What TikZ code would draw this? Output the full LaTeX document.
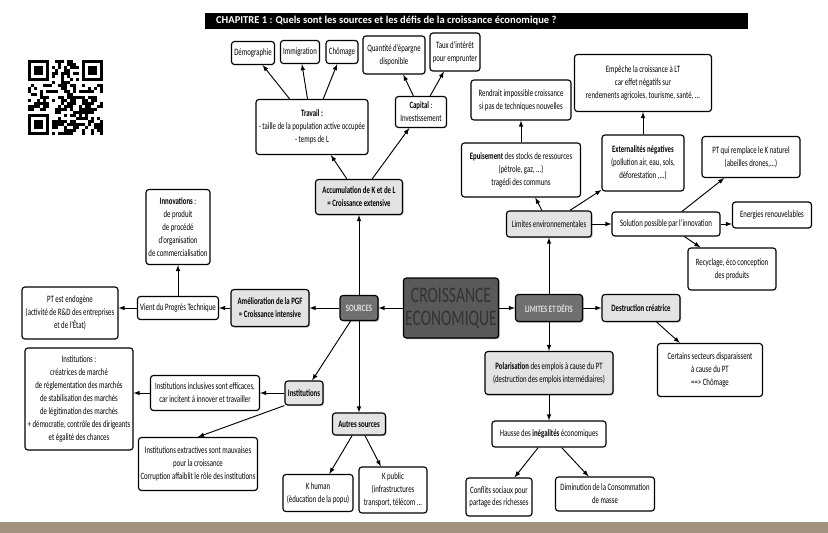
\documentclass[tikz,border=0pt]{standalone}
\usepackage{fontspec}
\setmainfont[FakeStretch=0.7]{Carlito}
\newfontfamily\titrefont{Carlito}
\usetikzlibrary{shadows}
\definecolor{tablefond}{RGB}{160,146,126}

\tikzset{
	boite/.style={draw, line width=1pt, rounded corners=2.5pt, align=center, inner sep=1.5pt, fill=white, font=\fontsize{8.3}{11}\selectfont},
	grise/.style={boite, fill=gray!22, drop shadow={shadow xshift=1pt, shadow yshift=-1pt, fill=black!45}},
	sombre/.style={boite, fill=gray!88!black, text=white!88!black, font=\fontsize{8.3}{11}\selectfont\bfseries, drop shadow={shadow xshift=1pt, shadow yshift=-1pt, fill=black!70}},
	taille/.style 2 args={minimum width=#1*0.03cm, minimum height=#2*0.03cm},
	fleche/.style={->, line width=0.8pt}
}

\begin{document}
\begin{tikzpicture}[x=0.03cm, y=-0.03cm, >=latex]
	\useasboundingbox (0,0) rectangle (828,533);
	\fill[white] (0,0) rectangle (828,533);
	\fill[tablefond] (0,522) rectangle (828,533);

	% Titre
	\fill[black] (205,13) rectangle (748,29);
	\node[anchor=west, text=white, font=\titrefont\fontsize{9}{10}\selectfont\bfseries] (chapitre) at (212,21) {CHAPITRE 1 : Quels sont les sources et les défis de la croissance économique ?};

	% QR code
	\fill[black] (28,60) rectangle +(21,21);
	\fill[white] (31,63) rectangle +(15,15);
	\fill[black] (34,66) rectangle +(9,9);
	\fill[black] (82,60) rectangle +(21,21);
	\fill[white] (85,63) rectangle +(15,15);
	\fill[black] (88,66) rectangle +(9,9);
	\fill[black] (28,114) rectangle +(21,21);
	\fill[white] (31,117) rectangle +(15,15);
	\fill[black] (34,120) rectangle +(9,9);
	\pgfmathsetseed{17}
	\foreach \i in {0,...,24}{
		\foreach \j in {0,...,24}{
			\pgfmathtruncatemacro\qrcoin{(\i<8 && \j<8) || (\i>16 && \j<8) || (\i<8 && \j>16)}
			\pgfmathtruncatemacro\qrnoir{rnd<0.5}
			\ifnum\qrcoin=0 \ifnum\qrnoir=1 \fill[black] (28+\i*3,60+\j*3) rectangle +(3,3); \fi\fi
		}
	}

	% Centre
	\node[boite, fill=gray!70!black, text=black!80, taille={94}{60}, font=\fontsize{19}{19.5}\selectfont, drop shadow={shadow xshift=1pt, shadow yshift=-1pt, fill=black!70}] (croissance) at (451,308) {CROISSANCE\\ECONOMIQUE};
	\node[sombre, taille={38}{25}] (sources) at (359,308) {SOURCES};
	\node[sombre, taille={67}{27}] (limites) at (549,308) {LIMITES ET DÉFIS};

	% Sources : accumulation
	\node[grise, taille={87}{35}] (accu) at (359,197) {\textbf{Accumulation de K et de L}\\\textbf{= Croissance extensive}};
	\node[boite, taille={112}{55}] (travail) at (312,127) {\textbf{Travail :}\\- taille de la population active occupée\\- temps de L};
	\node[boite, taille={51}{31}] (capital) at (421,112) {\textbf{Capital} :\\Investissement};
	\node[boite, taille={43}{23}] (demo) at (253,53) {Démographie};
	\node[boite, taille={39}{23}] (immig) at (300,52) {Immigration};
	\node[boite, taille={32}{23}] (chomage) at (342,52) {Chômage};
	\node[boite, taille={62}{38}] (epargne) at (394,55) {Quantité d'épargne\\disponible};
	\node[boite, taille={50}{38}] (taux) at (455,52) {Taux d'intérêt\\pour emprunter};

	% Sources : PGF
	\node[grise, taille={78}{37}] (pgf) at (270,308) {\textbf{Amélioration de la PGF}\\\textbf{= Croissance intensive}};
	\node[boite, taille={81}{23}] (progres) at (178,308) {Vient du Progrès Technique};
	\node[boite, taille={64}{75}] (innov) at (178,227) {\textbf{Innovations} :\\de produit\\de procédé\\d'organisation\\de commercialisation};
	\node[boite, taille={96}{52}] (endogene) at (70,313) {PT est endogène\\(activité de R\&D des entreprises\\et de l'État)};

	% Sources : institutions
	\node[grise, taille={38}{24}] (instit) at (304,393) {\textbf{Institutions}};
	\node[boite, taille={109}{35}] (inclusives) at (205,393) {Institutions inclusives sont efficaces,\\car incitent à innover et travailler};
	\node[boite, taille={108}{102}] (creatrices) at (79,399) {Institutions :\\créatrices de marché\\de réglementation des marchés\\de stabilisation des marchés\\de légitimation des marchés\\+ démocratie, contrôle des dirigeants\\et égalité des chances};
	\node[boite, taille={119}{53}] (extractives) at (198,464) {Institutions extractives sont mauvaises\\pour la croissance\\Corruption affaiblit le rôle des institutions};

	% Sources : autres
	\node[grise, taille={53}{22}] (autres) at (359,424) {\textbf{Autres sources}};
	\node[boite, taille={70}{37}] (khumain) at (318,493) {K human\\(éducation de la popu)};
	\node[boite, taille={68}{46}] (kpublic) at (393,490) {K public\\(infrastructures\\transport, télécom ...};

	% Limites : environnement
	\node[grise, taille={85}{26}] (environ) at (549,224) {Limites environnementales};
	\node[boite, taille={119}{54}] (epuise) at (521,170) {\textbf{Epuisement} des stocks de ressources\\(pétrole, gaz, ...)\\tragédi des communs};
	\node[boite, taille={100}{40}] (rendrait) at (521,100) {Rendrait impossible croissance\\si pas de techniques nouvelles};
	\node[boite, taille={82}{56}] (externa) at (643,163) {\textbf{Externalités négatives}\\(pollution air, eau, sols,\\déforestation ,...)};
	\node[boite, taille={137}{57}] (empeche) at (643,83) {Empêche la croissance à LT\\car effet négatifs sur\\rendements agricoles, tourisme, santé, ...};
	\node[boite, taille={108}{24}] (solution) at (666,224) {Solution possible par l'innovation};
	\node[boite, taille={79}{26}] (energies) at (772,215) {Energies renouvelables};
	\node[boite, taille={88}{42}] (recyclage) at (732,269) {Recyclage, éco conception\\des produits};
	\node[boite, taille={98}{41}] (ptnaturel) at (751,157) {PT qui remplace le K naturel\\(abeilles drones,...)};

	% Limites : emplois
	\node[grise, taille={78}{27}] (destruction) at (641,308) {\textbf{Destruction créatrice}};
	\node[boite, taille={105}{53}] (secteurs) at (710,370) {Certains secteurs disparaissent\\à cause du PT\\==> Chômage};
	\node[grise, taille={128}{43}] (polar) at (549,373) {\textbf{Polarisation} des emplois à cause du PT\\(destruction des emplois intermédiaires)};
	\node[boite, taille={114}{26}] (hausse) at (549,434) {Hausse des \textbf{inégalités} économiques};
	\node[boite, taille={66}{38}] (conflits) at (499,497) {Conflits sociaux pour\\partage des richesses};
	\node[boite, taille={99}{34}] (diminution) at (605,494) {Diminution de la Consommation\\de masse};

	% Fleches
	\draw[fleche] (croissance) -- (sources);
	\draw[fleche] (croissance) -- (limites);
	\draw[fleche] (sources) -- (accu);
	\draw[fleche] (sources) -- (pgf);
	\draw[fleche] (sources) -- (instit);
	\draw[fleche] (sources) -- (autres);
	\draw[fleche] (accu) -- (travail);
	\draw[fleche] (accu) -- (capital);
	\draw[fleche] (travail) -- (demo);
	\draw[fleche] (travail) -- (immig);
	\draw[fleche] (travail) -- (chomage);
	\draw[fleche] (capital) -- (epargne);
	\draw[fleche] (capital) -- (taux);
	\draw[fleche] (pgf) -- (progres);
	\draw[fleche] (progres) -- (innov);
	\draw[fleche] (progres.west) -- (progres.west -| endogene.east);
	\draw[fleche] (instit) -- (inclusives);
	\draw[fleche] (inclusives.west) -- (inclusives.west -| creatrices.east);
	\draw[fleche] (instit.south west) -- (extractives.north);
	\draw[fleche] (autres) -- (khumain);
	\draw[fleche] (autres) -- (kpublic);
	\draw[fleche] (limites) -- (environ);
	\draw[fleche] (limites) -- (destruction);
	\draw[fleche] (limites) -- (polar);
	\draw[fleche] (environ) -- (epuise);
	\draw[fleche] (environ) -- (externa);
	\draw[fleche] (environ) -- (solution);
	\draw[fleche] (epuise) -- (rendrait);
	\draw[fleche] (externa) -- (empeche);
	\draw[fleche] (solution.east) -- (solution.east -| energies.west);
	\draw[fleche] (solution) -- (recyclage);
	\draw[fleche] (solution) -- (ptnaturel);
	\draw[fleche] (destruction) -- (secteurs);
	\draw[fleche] (polar) -- (hausse);
	\draw[fleche] (hausse) -- (conflits);
	\draw[fleche] (hausse) -- (diminution);
\end{tikzpicture}
\end{document}
